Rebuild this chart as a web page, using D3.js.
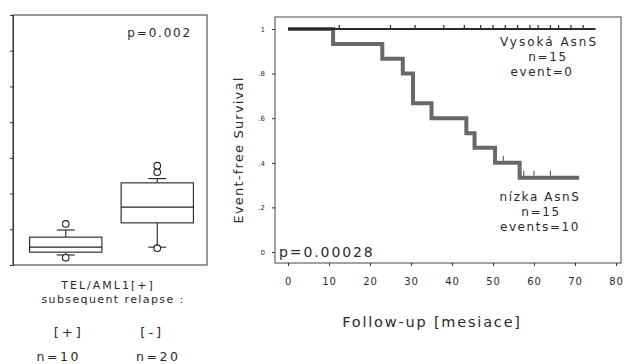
<!DOCTYPE html>
<html><head><meta charset="utf-8">
<script src="https://cdn.jsdelivr.net/npm/d3@7"></script>
<style>body{margin:0;background:#fff}svg{display:block}text{font-family:"DejaVu Sans",sans-serif;fill:#2a2a2a}</style>
</head><body><svg id="c" width="626" height="364"></svg>
<script>
// ---- Left panel: box plots ----
const boxGroups = ["[+]", "[-]"];
const boxN = ["n=10", "n=20"];
const boxQ1 = [0.36, 1.18];
const boxMedian = [0.50, 1.62];
const boxQ3 = [0.78, 2.30];
const whiskerLow = [0.28, 0.50];
const whiskerHigh = [0.98, 2.42];
const boxOutliers = [[1.15, 0.20], [2.60, 2.78, 0.47]];
const boxYTicks = [0, 1, 2, 3, 4, 5, 6, 7];

// ---- Right panel: Kaplan-Meier ----
const lowTimes = [0, 11, 23, 28, 30.5, 35, 43.5, 45.5, 50.5, 56.5];
const lowSurv = [1, 0.933, 0.867, 0.8, 0.667, 0.6, 0.533, 0.467, 0.4, 0.333];
const lowEnd = 71;
const lowCensor = [52.5, 57.5, 60, 64];
const highTimes = [0];
const highSurv = [1];
const highEnd = 75;
const highCensor = [12.5, 25, 31, 38, 43, 47, 50, 53, 56, 59, 61, 64, 66, 69, 72];
const kmXTicks = [0, 10, 20, 30, 40, 50, 60, 70, 80];
const kmYTicks = [0, 0.2, 0.4, 0.6, 0.8, 1];
const kmYLabels = ["0", ".2", ".4", ".6", ".8", "1"];

const svg = d3.select("#c");

// ===== Left panel =====
const L = {x0: 13, x1: 207, y0: 15, y1: 265};
const ly = d3.scaleLinear().domain([0, 7]).range([L.y1, L.y0]);
const lx = d3.scaleBand().domain(boxGroups).range([20, 203]);
const lg = svg.append("g");
lg.append("rect").attr("x", L.x0).attr("y", L.y0).attr("width", L.x1 - L.x0).attr("height", L.y1 - L.y0)
  .attr("fill", "none").attr("stroke", "#333").attr("stroke-width", 1);
lg.append("g").attr("transform", `translate(${L.x0},0)`)
  .call(d3.axisLeft(ly).tickValues(boxYTicks).tickSize(3).tickFormat(""))
  .call(g => g.select(".domain").attr("stroke", "#333"))
  .call(g => g.selectAll(".tick line").attr("stroke", "#333"));
const bw = lx.bandwidth() * 0.79;
boxGroups.forEach((grp, i) => {
  const cx = lx(grp) + lx.bandwidth() / 2;
  const g = lg.append("g").attr("stroke", "#222").attr("fill", "none").attr("stroke-width", 1.1);
  g.append("line").attr("x1", cx).attr("x2", cx).attr("y1", ly(boxQ3[i])).attr("y2", ly(whiskerHigh[i]));
  g.append("line").attr("x1", cx).attr("x2", cx).attr("y1", ly(boxQ1[i])).attr("y2", ly(whiskerLow[i]));
  g.append("line").attr("x1", cx - 9).attr("x2", cx + 9).attr("y1", ly(whiskerHigh[i])).attr("y2", ly(whiskerHigh[i]));
  g.append("line").attr("x1", cx - 9).attr("x2", cx + 9).attr("y1", ly(whiskerLow[i])).attr("y2", ly(whiskerLow[i]));
  g.append("rect").attr("x", cx - bw / 2).attr("y", ly(boxQ3[i])).attr("width", bw)
    .attr("height", ly(boxQ1[i]) - ly(boxQ3[i])).attr("fill", "#fff");
  g.append("line").attr("x1", cx - bw / 2).attr("x2", cx + bw / 2).attr("y1", ly(boxMedian[i])).attr("y2", ly(boxMedian[i]));
  boxOutliers[i].forEach(v => {
    g.append("circle").attr("cx", cx).attr("cy", ly(v)).attr("r", 3.3).attr("fill", "#fff");
  });
});
lg.append("text").attr("x", 192).attr("y", 37).attr("text-anchor", "end")
  .attr("font-size", 12).attr("letter-spacing", 1.8).text("p=0.002");
lg.append("text").attr("x", 108).attr("y", 289).attr("text-anchor", "middle")
  .attr("font-size", 11).attr("letter-spacing", 2).attr("fill", "#555").text("TEL/AML1[+]");
lg.append("text").attr("x", 113).attr("y", 303).attr("text-anchor", "middle")
  .attr("font-size", 11).attr("letter-spacing", 1.4).text("subsequent relapse :");
boxGroups.forEach((grp, i) => {
  const cx = lx(grp) + lx.bandwidth() / 2;
  lg.append("text").attr("x", cx + (i === 0 ? 3 : -5)).attr("y", 337).attr("text-anchor", "middle")
    .attr("font-size", 13).attr("letter-spacing", 3).text(grp);
  lg.append("text").attr("x", cx + (i === 0 ? -7 : 1)).attr("y", 361).attr("text-anchor", "middle")
    .attr("font-size", 12.5).attr("letter-spacing", 2.5).text(boxN[i]);
});

// ===== Right panel =====
const R = {x0: 275, x1: 621, y0: 17, y1: 263};
const kx = d3.scaleLinear().domain([0, 80]).range([288, 616]);
const ky = d3.scaleLinear().domain([0, 1]).range([252, 29]);
const rg = svg.append("g");
rg.append("rect").attr("x", R.x0).attr("y", R.y0).attr("width", R.x1 - R.x0).attr("height", R.y1 - R.y0)
  .attr("fill", "none").attr("stroke", "#444").attr("stroke-width", 1);
rg.append("g").attr("transform", `translate(0,${R.y1})`)
  .call(d3.axisBottom(kx).tickValues(kmXTicks).tickSize(3).tickPadding(12))
  .call(g => g.select(".domain").remove())
  .call(g => g.selectAll(".tick line").attr("stroke", "#333"))
  .call(g => g.selectAll(".tick text").attr("font-size", 10).attr("letter-spacing", 0.8)
    .attr("font-family", "DejaVu Sans").attr("fill", "#2a2a2a"));
rg.append("g").attr("transform", `translate(${R.x0},0)`)
  .call(d3.axisLeft(ky).tickValues(kmYTicks).tickSize(3).tickPadding(7)
    .tickFormat((d, i) => kmYLabels[i]))
  .call(g => g.select(".domain").remove())
  .call(g => g.selectAll(".tick line").attr("stroke", "#333"))
  .call(g => g.selectAll(".tick text").attr("font-size", 7).attr("font-family", "DejaVu Sans").attr("fill", "#555"));

function stepPath(times, surv, end) {
  const pts = [];
  times.forEach((t, i) => {
    if (i > 0) pts.push([t, surv[i - 1]]);
    pts.push([t, surv[i]]);
  });
  pts.push([end, surv[surv.length - 1]]);
  return d3.line().x(d => kx(d[0])).y(d => ky(d[1]))(pts);
}
function survAt(times, surv, t) {
  const i = d3.bisectRight(times, t) - 1;
  return surv[Math.max(0, i)];
}
// low AsnS curve (thick gray)
rg.append("path").attr("d", stepPath(lowTimes, lowSurv, lowEnd))
  .attr("fill", "none").attr("stroke", "#686868").attr("stroke-width", 4);
lowCensor.forEach(t => {
  const s = survAt(lowTimes, lowSurv, t);
  rg.append("line").attr("x1", kx(t)).attr("x2", kx(t)).attr("y1", ky(s) - 2).attr("y2", ky(s) - 7)
    .attr("stroke", "#444").attr("stroke-width", 1);
});
// high AsnS curve (dark thin)
rg.append("path").attr("d", stepPath(highTimes, highSurv, highEnd))
  .attr("fill", "none").attr("stroke", "#2a2a2a").attr("stroke-width", 2);
highCensor.forEach(t => {
  const s = survAt(highTimes, highSurv, t);
  rg.append("line").attr("x1", kx(t)).attr("x2", kx(t)).attr("y1", ky(s) + 1).attr("y2", ky(s) - 4)
    .attr("stroke", "#2a2a2a").attr("stroke-width", 1.2);
});

// labels
const lab = (x, y, txt, size, ls) => rg.append("text").attr("x", x).attr("y", y)
  .attr("text-anchor", "middle").attr("font-size", size).attr("letter-spacing", ls).text(txt);
lab(549, 46, "Vysoká AsnS", 12, 2);
lab(548, 61, "n=15", 12, 1.6);
lab(542, 76, "event=0", 12, 1.6);
lab(540, 201, "nízka AsnS", 12, 1.6);
lab(541, 216, "n=15", 12, 1.6);
lab(540, 231, "events=10", 12, 1.6);
rg.append("text").attr("x", 279).attr("y", 257).attr("font-size", 14).attr("letter-spacing", 1.9).text("p=0.00028");
rg.append("text").attr("x", 432).attr("y", 327).attr("text-anchor", "middle")
  .attr("font-size", 14.5).attr("letter-spacing", 1.8).text("Follow-up [mesiace]");
rg.append("text").attr("transform", "translate(243,150) rotate(-90)").attr("text-anchor", "middle")
  .attr("font-size", 13).attr("letter-spacing", 1.2).text("Event-free Survival");
</script></body></html>
